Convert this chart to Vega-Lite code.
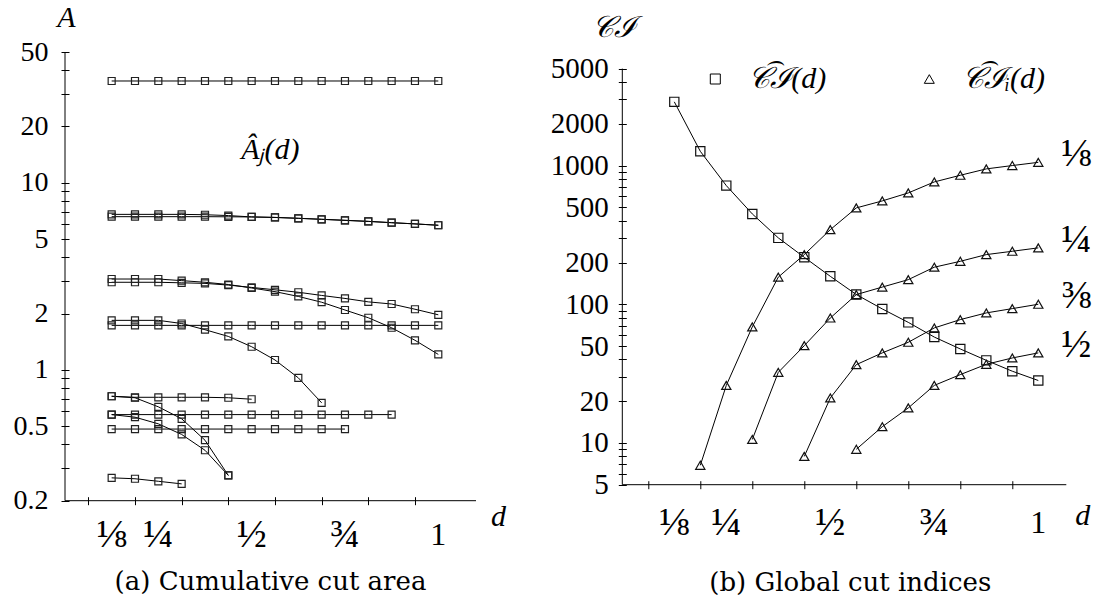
{
"$schema":"https://vega.github.io/schema/vega-lite/v6.json",
"background":"white",
"padding":{"left":13,"top":2,"right":5,"bottom":5},
"bounds":"flush",
"spacing":146.3,
"resolve":{"legend":{"shape":"independent"}},
"config":{"view":{"stroke":null},"font":"Liberation Serif"},
"datasets":{
"xlab":[{"d":0.125,"t":"⅛"},{"d":0.25,"t":"¼"},{"d":0.5,"t":"½"},{"d":0.75,"t":"¾"},{"d":1,"t":"1"}],
"left":[
{"s":"a","d":0.125,"v":35},{"s":"a","d":0.1875,"v":35},{"s":"a","d":0.25,"v":35},{"s":"a","d":0.3125,"v":35},{"s":"a","d":0.375,"v":35},{"s":"a","d":0.4375,"v":35},{"s":"a","d":0.5,"v":35},{"s":"a","d":0.5625,"v":35},{"s":"a","d":0.625,"v":35},{"s":"a","d":0.6875,"v":35},{"s":"a","d":0.75,"v":35},{"s":"a","d":0.8125,"v":35},{"s":"a","d":0.875,"v":35},{"s":"a","d":0.9375,"v":35},{"s":"a","d":1,"v":35},
{"s":"b","d":0.125,"v":6.78},{"s":"b","d":0.1875,"v":6.78},{"s":"b","d":0.25,"v":6.78},{"s":"b","d":0.3125,"v":6.78},{"s":"b","d":0.375,"v":6.75},{"s":"b","d":0.4375,"v":6.68},{"s":"b","d":0.5,"v":6.57},{"s":"b","d":0.5625,"v":6.53},{"s":"b","d":0.625,"v":6.46},{"s":"b","d":0.6875,"v":6.38},{"s":"b","d":0.75,"v":6.3},{"s":"b","d":0.8125,"v":6.22},{"s":"b","d":0.875,"v":6.12},{"s":"b","d":0.9375,"v":6.03},{"s":"b","d":1,"v":5.93},
{"s":"c","d":0.125,"v":6.59},{"s":"c","d":0.1875,"v":6.59},{"s":"c","d":0.25,"v":6.59},{"s":"c","d":0.3125,"v":6.59},{"s":"c","d":0.375,"v":6.59},{"s":"c","d":0.4375,"v":6.58},{"s":"c","d":0.5,"v":6.57},{"s":"c","d":0.5625,"v":6.53},{"s":"c","d":0.625,"v":6.46},{"s":"c","d":0.6875,"v":6.38},{"s":"c","d":0.75,"v":6.3},{"s":"c","d":0.8125,"v":6.22},{"s":"c","d":0.875,"v":6.12},{"s":"c","d":0.9375,"v":6.03},{"s":"c","d":1,"v":5.93},
{"s":"e","d":0.125,"v":2.94},{"s":"e","d":0.1875,"v":2.94},{"s":"e","d":0.25,"v":2.94},{"s":"e","d":0.3125,"v":2.92},{"s":"e","d":0.375,"v":2.9},{"s":"e","d":0.4375,"v":2.84},{"s":"e","d":0.5,"v":2.76},{"s":"e","d":0.5625,"v":2.68},{"s":"e","d":0.625,"v":2.6},{"s":"e","d":0.6875,"v":2.5},{"s":"e","d":0.75,"v":2.41},{"s":"e","d":0.8125,"v":2.31},{"s":"e","d":0.875,"v":2.25},{"s":"e","d":0.9375,"v":2.11},{"s":"e","d":1,"v":1.97},
{"s":"f","d":0.125,"v":3.06},{"s":"f","d":0.1875,"v":3.06},{"s":"f","d":0.25,"v":3.06},{"s":"f","d":0.3125,"v":3.0},{"s":"f","d":0.375,"v":2.94},{"s":"f","d":0.4375,"v":2.86},{"s":"f","d":0.5,"v":2.74},{"s":"f","d":0.5625,"v":2.62},{"s":"f","d":0.625,"v":2.47},{"s":"f","d":0.6875,"v":2.3},{"s":"f","d":0.75,"v":2.09},{"s":"f","d":0.8125,"v":1.9},{"s":"f","d":0.875,"v":1.68},{"s":"f","d":0.9375,"v":1.44},{"s":"f","d":1,"v":1.21},
{"s":"g","d":0.125,"v":1.73},{"s":"g","d":0.1875,"v":1.73},{"s":"g","d":0.25,"v":1.73},{"s":"g","d":0.3125,"v":1.73},{"s":"g","d":0.375,"v":1.73},{"s":"g","d":0.4375,"v":1.73},{"s":"g","d":0.5,"v":1.73},{"s":"g","d":0.5625,"v":1.73},{"s":"g","d":0.625,"v":1.73},{"s":"g","d":0.6875,"v":1.73},{"s":"g","d":0.75,"v":1.73},{"s":"g","d":0.8125,"v":1.73},{"s":"g","d":0.875,"v":1.73},{"s":"g","d":0.9375,"v":1.73},{"s":"g","d":1,"v":1.73},
{"s":"h","d":0.125,"v":1.84},{"s":"h","d":0.1875,"v":1.84},{"s":"h","d":0.25,"v":1.84},{"s":"h","d":0.3125,"v":1.77},{"s":"h","d":0.375,"v":1.64},{"s":"h","d":0.4375,"v":1.51},{"s":"h","d":0.5,"v":1.33},{"s":"h","d":0.5625,"v":1.13},{"s":"h","d":0.625,"v":0.907},{"s":"h","d":0.6875,"v":0.667},
{"s":"i","d":0.125,"v":0.723},{"s":"i","d":0.1875,"v":0.714},{"s":"i","d":0.25,"v":0.714},{"s":"i","d":0.3125,"v":0.714},{"s":"i","d":0.375,"v":0.714},{"s":"i","d":0.4375,"v":0.71},{"s":"i","d":0.5,"v":0.697},
{"s":"j","d":0.125,"v":0.723},{"s":"j","d":0.1875,"v":0.71},{"s":"j","d":0.25,"v":0.635},{"s":"j","d":0.3125,"v":0.548},{"s":"j","d":0.375,"v":0.421},{"s":"j","d":0.4375,"v":0.273},
{"s":"k","d":0.125,"v":0.577},{"s":"k","d":0.1875,"v":0.577},{"s":"k","d":0.25,"v":0.577},{"s":"k","d":0.3125,"v":0.577},{"s":"k","d":0.375,"v":0.577},{"s":"k","d":0.4375,"v":0.577},{"s":"k","d":0.5,"v":0.577},{"s":"k","d":0.5625,"v":0.577},{"s":"k","d":0.625,"v":0.577},{"s":"k","d":0.6875,"v":0.577},{"s":"k","d":0.75,"v":0.577},{"s":"k","d":0.8125,"v":0.577},{"s":"k","d":0.875,"v":0.577},
{"s":"l","d":0.125,"v":0.577},{"s":"l","d":0.1875,"v":0.559},{"s":"l","d":0.25,"v":0.515},{"s":"l","d":0.3125,"v":0.452},{"s":"l","d":0.375,"v":0.372},{"s":"l","d":0.4375,"v":0.273},
{"s":"m","d":0.125,"v":0.483},{"s":"m","d":0.1875,"v":0.483},{"s":"m","d":0.25,"v":0.483},{"s":"m","d":0.3125,"v":0.483},{"s":"m","d":0.375,"v":0.483},{"s":"m","d":0.4375,"v":0.483},{"s":"m","d":0.5,"v":0.483},{"s":"m","d":0.5625,"v":0.483},{"s":"m","d":0.625,"v":0.483},{"s":"m","d":0.6875,"v":0.483},{"s":"m","d":0.75,"v":0.483},
{"s":"n","d":0.125,"v":0.265},{"s":"n","d":0.1875,"v":0.262},{"s":"n","d":0.25,"v":0.254},{"s":"n","d":0.3125,"v":0.246}
],
"right":[
{"s":"hat","k":"hat","d":0.125,"v":2880},{"s":"hat","k":"hat","d":0.1875,"v":1267},{"s":"hat","k":"hat","d":0.25,"v":717},{"s":"hat","k":"hat","d":0.3125,"v":448},{"s":"hat","k":"hat","d":0.375,"v":301},{"s":"hat","k":"hat","d":0.4375,"v":218},{"s":"hat","k":"hat","d":0.5,"v":159},{"s":"hat","k":"hat","d":0.5625,"v":117.5},{"s":"hat","k":"hat","d":0.625,"v":92.5},{"s":"hat","k":"hat","d":0.6875,"v":74},{"s":"hat","k":"hat","d":0.75,"v":58},{"s":"hat","k":"hat","d":0.8125,"v":47.6},{"s":"hat","k":"hat","d":0.875,"v":39.4},{"s":"hat","k":"hat","d":0.9375,"v":32.9},{"s":"hat","k":"hat","d":1,"v":28.2},
{"s":"⅛","k":"i","d":0.1875,"v":6.9},{"s":"⅛","k":"i","d":0.25,"v":26},{"s":"⅛","k":"i","d":0.3125,"v":68.7},{"s":"⅛","k":"i","d":0.375,"v":157},{"s":"⅛","k":"i","d":0.4375,"v":228},{"s":"⅛","k":"i","d":0.5,"v":345},{"s":"⅛","k":"i","d":0.5625,"v":495},{"s":"⅛","k":"i","d":0.625,"v":556},{"s":"⅛","k":"i","d":0.6875,"v":635},{"s":"⅛","k":"i","d":0.75,"v":762},{"s":"⅛","k":"i","d":0.8125,"v":851},{"s":"⅛","k":"i","d":0.875,"v":946},{"s":"⅛","k":"i","d":0.9375,"v":1000},{"s":"⅛","k":"i","d":1,"v":1055},
{"s":"¼","k":"i","d":0.3125,"v":10.6},{"s":"¼","k":"i","d":0.375,"v":32.3},{"s":"¼","k":"i","d":0.4375,"v":50.3},{"s":"¼","k":"i","d":0.5,"v":79.6},{"s":"¼","k":"i","d":0.5625,"v":117.4},{"s":"¼","k":"i","d":0.625,"v":133},{"s":"¼","k":"i","d":0.6875,"v":150.5},{"s":"¼","k":"i","d":0.75,"v":185},{"s":"¼","k":"i","d":0.8125,"v":204},{"s":"¼","k":"i","d":0.875,"v":228},{"s":"¼","k":"i","d":0.9375,"v":241},{"s":"¼","k":"i","d":1,"v":255},
{"s":"⅜","k":"i","d":0.4375,"v":8.0},{"s":"⅜","k":"i","d":0.5,"v":21.1},{"s":"⅜","k":"i","d":0.5625,"v":36.7},{"s":"⅜","k":"i","d":0.625,"v":44.6},{"s":"⅜","k":"i","d":0.6875,"v":53.2},{"s":"⅜","k":"i","d":0.75,"v":67.5},{"s":"⅜","k":"i","d":0.8125,"v":77.5},{"s":"⅜","k":"i","d":0.875,"v":86.6},{"s":"⅜","k":"i","d":0.9375,"v":93},{"s":"⅜","k":"i","d":1,"v":100},
{"s":"½","k":"i","d":0.5625,"v":9.0},{"s":"½","k":"i","d":0.625,"v":13.1},{"s":"½","k":"i","d":0.6875,"v":17.9},{"s":"½","k":"i","d":0.75,"v":26},{"s":"½","k":"i","d":0.8125,"v":31.1},{"s":"½","k":"i","d":0.875,"v":36.9},{"s":"½","k":"i","d":0.9375,"v":41},{"s":"½","k":"i","d":1,"v":44.6}
]
},
"hconcat":[
{
"width":411,"height":448.7,
"title":{"text":"(a) Cumulative cut area","orient":"bottom","anchor":"middle","frame":"group","offset":14,"font":"DejaVu Serif","fontSize":26,"fontWeight":"normal","color":"#000"},
"layer":[
{"data":{"name":"left"},"mark":{"type":"line","color":"#000","strokeWidth":1},
"encoding":{
"x":{"field":"d","type":"quantitative","scale":{"domain":[0,1.101],"nice":false,"zero":false},
"axis":{"values":[0.0625,0.125,0.1875,0.25,0.3125,0.375,0.4375,0.5,0.5625,0.625,0.6875,0.75,0.8125,0.875,0.9375,1],"labels":false,"offset":-4,"tickSize":8,"tickColor":"#000","tickWidth":1,"domain":false,"grid":false,"title":"d","titleFont":"Liberation Serif","titleFontStyle":"italic","titleFontWeight":"normal","titleFontSize":30,"titleColor":"#000","titleX":433,"titleY":20,"titleAlign":"center","titleBaseline":"middle","titleAngle":0}},
"y":{"field":"v","type":"quantitative","scale":{"type":"log","domain":[0.2,50],"nice":false},
"axis":{"values":[0.2,0.3,0.4,0.5,0.6,0.7,0.8,0.9,1,2,3,4,5,6,7,8,9,10,20,30,40,50],"format":"~g","labelExpr":"indexof([0.2,0.5,1,2,5,10,20,50], datum.value) >= 0 ? datum.label : ''","offset":-4,"tickSize":8,"tickColor":"#000","tickWidth":1,"domain":false,"grid":false,"labelFont":"Liberation Serif","labelFontSize":28,"labelColor":"#000","labelPadding":13,"labelBaseline":"middle","labelOverlap":false,"labelFlush":false,"title":"A","titleFont":"Liberation Serif","titleFontStyle":"italic","titleFontWeight":"normal","titleFontSize":30,"titleColor":"#000","titleX":-3,"titleY":-35,"titleAlign":"center","titleBaseline":"middle","titleAngle":0}},
"detail":{"field":"s"}}},
{"data":{"values":[{}]},"mark":{"type":"rule","color":"#000","strokeWidth":1},
"encoding":{"x":{"datum":0,"type":"quantitative"},"y":{"datum":0.2,"type":"quantitative"},"y2":{"datum":50}}},
{"data":{"values":[{}]},"mark":{"type":"rule","color":"#000","strokeWidth":1},
"encoding":{"x":{"datum":0,"type":"quantitative"},"x2":{"datum":1.101},"y":{"datum":0.2,"type":"quantitative"}}},
{"data":{"name":"left"},"mark":{"type":"point","shape":"square","filled":false,"size":49,"color":"#222","strokeWidth":1.2,"opacity":1},
"encoding":{"x":{"field":"d","type":"quantitative"},"y":{"field":"v","type":"quantitative"}}},
{"data":{"name":"xlab"},"transform":[{"filter":"datum.d < 1"}],"mark":{"type":"text","font":"Liberation Serif","fontSize":40,"align":"center","baseline":"middle","dy":34,"color":"#000"},
"encoding":{"x":{"field":"d","type":"quantitative"},"y":{"datum":0.2,"type":"quantitative"},"text":{"field":"t"}}},
{"data":{"name":"xlab"},"transform":[{"filter":"datum.d == 1"}],"mark":{"type":"text","font":"Liberation Serif","fontSize":32,"align":"center","baseline":"middle","dy":34,"color":"#000"},
"encoding":{"x":{"field":"d","type":"quantitative"},"y":{"datum":0.2,"type":"quantitative"},"text":{"field":"t"}}},
{"data":{"values":[{}]},"mark":{"type":"text","text":"Âⱼ(d)","font":"Liberation Serif","fontStyle":"italic","fontSize":30,"align":"center","baseline":"middle","color":"#000"},
"encoding":{"x":{"datum":0.55,"type":"quantitative"},"y":{"datum":14.9,"type":"quantitative"}}}
]
},
{
"width":444,"height":432.7,
"title":{"text":"(b) Global cut indices","orient":"bottom","anchor":"middle","frame":"group","offset":27,"dx":6,"font":"DejaVu Serif","fontSize":26,"fontWeight":"normal","color":"#000"},
"layer":[
{"data":{"name":"right"},"mark":{"type":"line","color":"#000","strokeWidth":1},
"encoding":{
"x":{"field":"d","type":"quantitative","scale":{"domain":[0,1.0673],"nice":false,"zero":false},
"axis":{"values":[0.0625,0.125,0.1875,0.25,0.3125,0.375,0.4375,0.5,0.5625,0.625,0.6875,0.75,0.8125,0.875,0.9375,1],"labels":false,"offset":-4,"tickSize":8,"tickColor":"#000","tickWidth":1,"domain":false,"grid":false,"title":"d","titleFont":"Liberation Serif","titleFontStyle":"italic","titleFontWeight":"normal","titleFontSize":30,"titleColor":"#000","titleX":460,"titleY":35,"titleAlign":"center","titleBaseline":"middle","titleAngle":0}},
"y":{"field":"v","type":"quantitative","scale":{"type":"log","domain":[5,6588],"nice":false},
"axis":{"values":[5,6,7,8,9,10,20,30,40,50,60,70,80,90,100,200,300,400,500,600,700,800,900,1000,2000,3000,4000,5000],"format":"~g","labelExpr":"indexof([5,10,20,50,100,200,500,1000,2000,5000], datum.value) >= 0 ? datum.label : ''","offset":-4,"tickSize":8,"tickColor":"#000","tickWidth":1,"domain":false,"grid":false,"labelFont":"Liberation Serif","labelFontSize":29,"labelColor":"#000","labelPadding":10,"labelBaseline":"middle","labelOverlap":false,"labelFlush":false,"title":"𝒞ℐ","titleFont":"Liberation Serif","titleFontStyle":"italic","titleFontWeight":"normal","titleFontSize":30,"titleColor":"#000","titleX":-13,"titleY":-25,"titleAlign":"center","titleBaseline":"middle","titleAngle":0}},
"detail":{"field":"s"}}},
{"data":{"values":[{}]},"mark":{"type":"rule","color":"#000","strokeWidth":1},
"encoding":{"x":{"datum":0,"type":"quantitative"},"y":{"datum":5,"type":"quantitative"},"y2":{"datum":5000}}},
{"data":{"values":[{}]},"mark":{"type":"rule","color":"#000","strokeWidth":1},
"encoding":{"x":{"datum":0,"type":"quantitative"},"x2":{"datum":1.0673},"y":{"datum":5,"type":"quantitative"}}},
{"data":{"name":"right"},"mark":{"type":"point","filled":false,"size":85,"color":"#111","strokeWidth":1.2,"opacity":1},
"encoding":{"x":{"field":"d","type":"quantitative"},"y":{"field":"v","type":"quantitative"},
"shape":{"field":"k","type":"nominal","scale":{"domain":["hat","i"],"range":["square","triangle-up"]},
"legend":{"orient":"none","legendX":78,"legendY":12,"direction":"horizontal","title":null,"labelExpr":"datum.value == 'hat' ? '𝒞͡ℐ(d)' : '𝒞͡ℐᵢ(d)'","labelFont":"Liberation Serif","labelFontStyle":"italic","labelFontSize":30,"labelColor":"#000","labelOffset":18,"columnPadding":88,"symbolSize":100,"symbolStrokeColor":"#000","symbolStrokeWidth":1,"symbolFillColor":"transparent"}}}},
{"data":{"name":"xlab"},"transform":[{"filter":"datum.d < 1"}],"mark":{"type":"text","font":"Liberation Serif","fontSize":40,"align":"center","baseline":"middle","dy":38,"color":"#000"},
"encoding":{"x":{"field":"d","type":"quantitative"},"y":{"datum":5,"type":"quantitative"},"text":{"field":"t"}}},
{"data":{"name":"xlab"},"transform":[{"filter":"datum.d == 1"}],"mark":{"type":"text","font":"Liberation Serif","fontSize":32,"align":"center","baseline":"middle","dy":38,"color":"#000"},
"encoding":{"x":{"field":"d","type":"quantitative"},"y":{"datum":5,"type":"quantitative"},"text":{"field":"t"}}},
{"data":{"name":"right"},"transform":[{"filter":"datum.d == 1 && datum.k == 'i'"}],"mark":{"type":"text","align":"left","baseline":"middle","dx":23,"dy":-8,"fontSize":40,"font":"Liberation Serif","color":"#000"},
"encoding":{"x":{"field":"d","type":"quantitative"},"y":{"field":"v","type":"quantitative"},"text":{"field":"s"}}}
]
}
]
}
